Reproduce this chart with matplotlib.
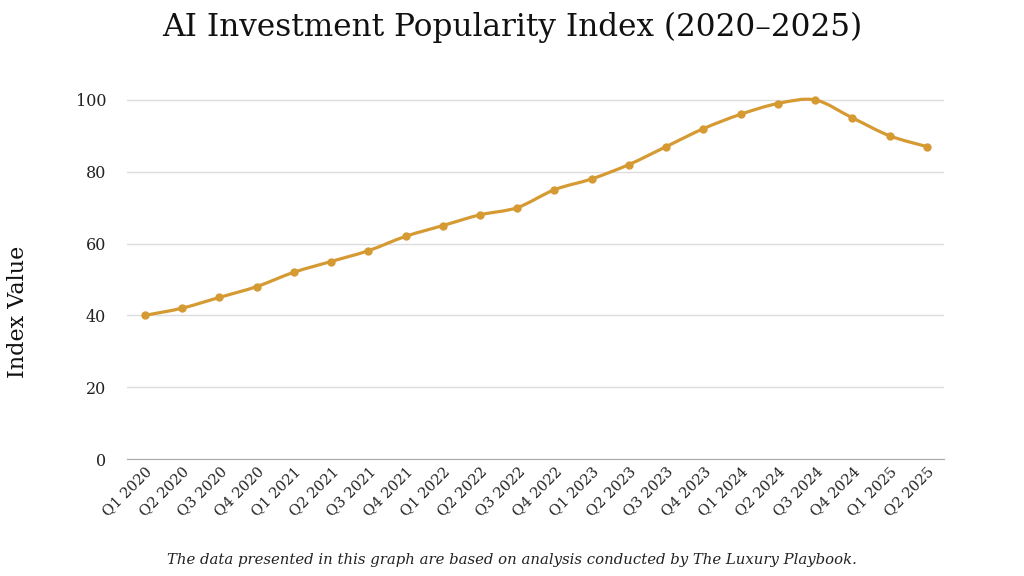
import numpy as np
import matplotlib
matplotlib.use("Agg")
from matplotlib import pyplot as plt
from matplotlib.path import Path
from matplotlib.patches import PathPatch

quarters = ["Q1 2020", "Q2 2020", "Q3 2020", "Q4 2020",
            "Q1 2021", "Q2 2021", "Q3 2021", "Q4 2021",
            "Q1 2022", "Q2 2022", "Q3 2022", "Q4 2022",
            "Q1 2023", "Q2 2023", "Q3 2023", "Q4 2023",
            "Q1 2024", "Q2 2024", "Q3 2024", "Q4 2024",
            "Q1 2025", "Q2 2025"]
index_values = [40, 42, 45, 48, 52, 55, 58, 62, 65, 68, 70, 75,
                78, 82, 87, 92, 96, 99, 100, 95, 90, 87]
y_ticks = [0, 20, 40, 60, 80, 100]

GOLD = "#d69a33"
TEXT = "#222222"

plt.rcParams["font.family"] = ["DejaVu Serif"]

fig = plt.figure(figsize=(10.24, 5.76), dpi=100)
ax = fig.add_axes([127/1024, 1 - 459/576, (944-127)/1024, (459-64)/576])

x = np.arange(len(quarters))
y = np.array(index_values, dtype=float)

# smooth curve through the points as cubic bezier segments
t = 0.16
verts = [(x[0], y[0])]
codes = [Path.MOVETO]
for i in range(len(x) - 1):
    p0 = (x[max(i-1, 0)], y[max(i-1, 0)])
    p1 = (x[i], y[i])
    p2 = (x[i+1], y[i+1])
    p3 = (x[min(i+2, len(x)-1)], y[min(i+2, len(x)-1)])
    c1 = (p1[0] + (p2[0]-p0[0])*t, p1[1] + (p2[1]-p0[1])*t)
    c2 = (p2[0] - (p3[0]-p1[0])*t, p2[1] - (p3[1]-p1[1])*t)
    verts += [c1, c2, p2]
    codes += [Path.CURVE4]*3
ax.add_patch(PathPatch(Path(verts, codes), facecolor="none", edgecolor=GOLD,
                       lw=2.3, capstyle="round", joinstyle="round", zorder=3))
ax.plot(x, y, "o", color=GOLD, ms=5, zorder=4)

ax.set_xlim(-0.48, len(x) - 1 + 0.46)
ax.set_ylim(0, 110)
ax.set_yticks(y_ticks)
ax.set_xticks(x)
ax.set_xticklabels(quarters, rotation=45, ha="right", rotation_mode="anchor")
ax.tick_params(axis="both", length=0, colors=TEXT)
ax.tick_params(axis="x", pad=4, labelsize=10.5)
ax.tick_params(axis="y", pad=15, labelsize=11.5)
ax.grid(axis="y", color="#dddddd", lw=1)
ax.set_axisbelow(True)
for s in ["top", "right", "left"]:
    ax.spines[s].set_visible(False)
ax.spines["bottom"].set_color("#aaaaaa")

fig.text(512/1024, 1 - 27/576, "AI Investment Popularity Index (2020\u20132025)",
         ha="center", va="center", fontsize=22.4, color="#111111")
fig.text(18/1024, 1 - 312/576, "Index Value", rotation=90, ha="center",
         va="center", fontsize=16, color="#111111")
fig.text(512/1024, 1 - 560/576,
         "The data presented in this graph are based on analysis conducted by The Luxury Playbook.",
         ha="center", va="center", fontsize=10.7, style="italic", color="#222222")

fig.savefig("out.png", dpi=100, facecolor="white")
